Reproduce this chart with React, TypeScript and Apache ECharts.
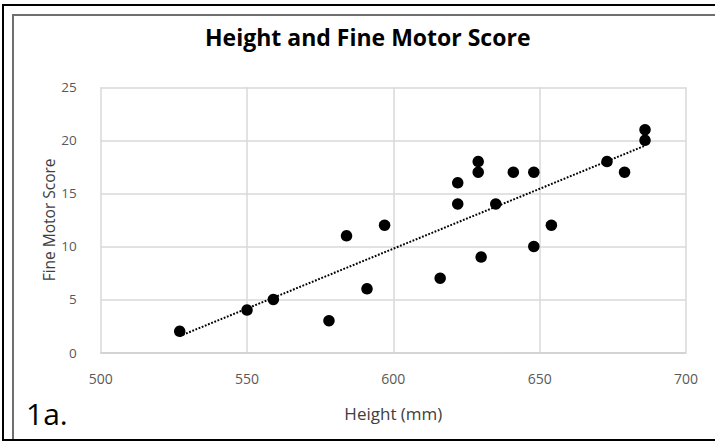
import React, { useEffect, useRef } from "react";
import * as echarts from "echarts";

const titleText = "Height and Fine Motor Score";
const xAxisName = "Height (mm)";
const yAxisName = "Fine Motor Score";
const panelLabel = "1a.";

const heights = [527, 550, 559, 578, 584, 591, 597, 616, 622, 622, 629, 629, 630, 635, 641, 648, 648, 654, 673, 679, 686, 686];
const scores = [2, 4, 5, 3, 11, 6, 12, 7, 16, 14, 18, 17, 9, 14, 17, 17, 10, 12, 18, 17, 21, 20];

const xMin = 500;
const xMax = 700;
const xStep = 50;
const yMin = 0;
const yMax = 25;
const yStep = 5;

function linearFit(xs: number[], ys: number[]) {
  const n = xs.length;
  const mx = xs.reduce((a, b) => a + b, 0) / n;
  const my = ys.reduce((a, b) => a + b, 0) / n;
  let sxy = 0;
  let sxx = 0;
  for (let i = 0; i < n; i++) {
    sxy += (xs[i] - mx) * (ys[i] - my);
    sxx += (xs[i] - mx) * (xs[i] - mx);
  }
  const b = sxy / sxx;
  const a = my - b * mx;
  return { a, b };
}

export default function App() {
  const ref = useRef<HTMLDivElement>(null);
  useEffect(() => {
    if (!ref.current) return;
    const chart = echarts.init(ref.current, undefined, { renderer: "svg" });
    const fit = linearFit(heights, scores);
    const lo = Math.min(...heights);
    const hi = Math.max(...heights);
    const trend = [
      [lo, fit.a + fit.b * lo],
      [hi, fit.a + fit.b * hi],
    ];
    const narrow = "'Liberation Sans Narrow', 'Open Sans', sans-serif";
    chart.setOption({
      animation: false,
      backgroundColor: "#ffffff",
      title: {
        text: titleText,
        left: 205,
        top: 25,
        padding: 0,
        textStyle: {
          fontFamily: "'Open Sans', sans-serif",
          fontWeight: "bold",
          fontSize: 23,
          color: "#000000",
        },
      },
      grid: { left: 100.7, right: 29, top: 87.3, bottom: 88.5 },
      xAxis: {
        type: "value",
        min: xMin,
        max: xMax,
        interval: xStep,
        name: xAxisName,
        nameLocation: "middle",
        nameGap: 52,
        nameMoveOverlap: false,
        nameTextStyle: { fontFamily: "'Open Sans', sans-serif", fontSize: 17, color: "#404040" },
        axisLine: { show: true, lineStyle: { color: "#d0d0d0", width: 1.5 } },
        axisTick: { show: false },
        axisLabel: { fontFamily: narrow, fontSize: 14, color: "#595959", margin: 19 },
        splitLine: { show: true, lineStyle: { color: "#d9d9d9", width: 1.5 } },
      },
      yAxis: {
        type: "value",
        min: yMin,
        max: yMax,
        interval: yStep,
        name: yAxisName,
        nameLocation: "middle",
        nameGap: 44,
        nameMoveOverlap: false,
        nameTextStyle: { fontFamily: "'Open Sans', sans-serif", fontSize: 15.5, color: "#404040" },
        axisLine: { show: false },
        axisTick: { show: false },
        axisLabel: { fontFamily: narrow, fontSize: 13.5, color: "#595959", margin: 24 },
        splitLine: { show: true, lineStyle: { color: "#d9d9d9", width: 1.5 } },
      },
      series: [
        {
          type: "line",
          data: trend,
          showSymbol: false,
          symbol: "none",
          lineStyle: { color: "#000000", width: 2, type: [1.8, 1.6] },
          z: 2,
        },
        {
          type: "scatter",
          data: heights.map((h, i) => [h, scores[i]]),
          symbol: "circle",
          symbolSize: 11.5,
          itemStyle: { color: "#000000", opacity: 1 },
          z: 3,
        },
      ],
      graphic: [
        {
          type: "polyline",
          shape: { points: [[715, 5], [3, 5], [3, 440], [715, 440]] },
          style: { fill: "none", stroke: "#000000", lineWidth: 2 },
          silent: true,
        },
        {
          type: "polyline",
          shape: { points: [[715, 15], [13, 15], [13, 439]] },
          style: { fill: "none", stroke: "#6f6f6f", lineWidth: 2 },
          silent: true,
        },
        {
          type: "text",
          left: 26,
          top: 398,
          style: {
            text: panelLabel,
            fontFamily: "'Open Sans', sans-serif",
            fontSize: 30,
            fill: "#000000",
          },
        },
      ],
    });
    return () => chart.dispose();
  }, []);
  return (
    <div
      ref={ref}
      style={{ position: "fixed", left: 0, top: 0, width: 715, height: 441, background: "#fff" }}
    />
  );
}
